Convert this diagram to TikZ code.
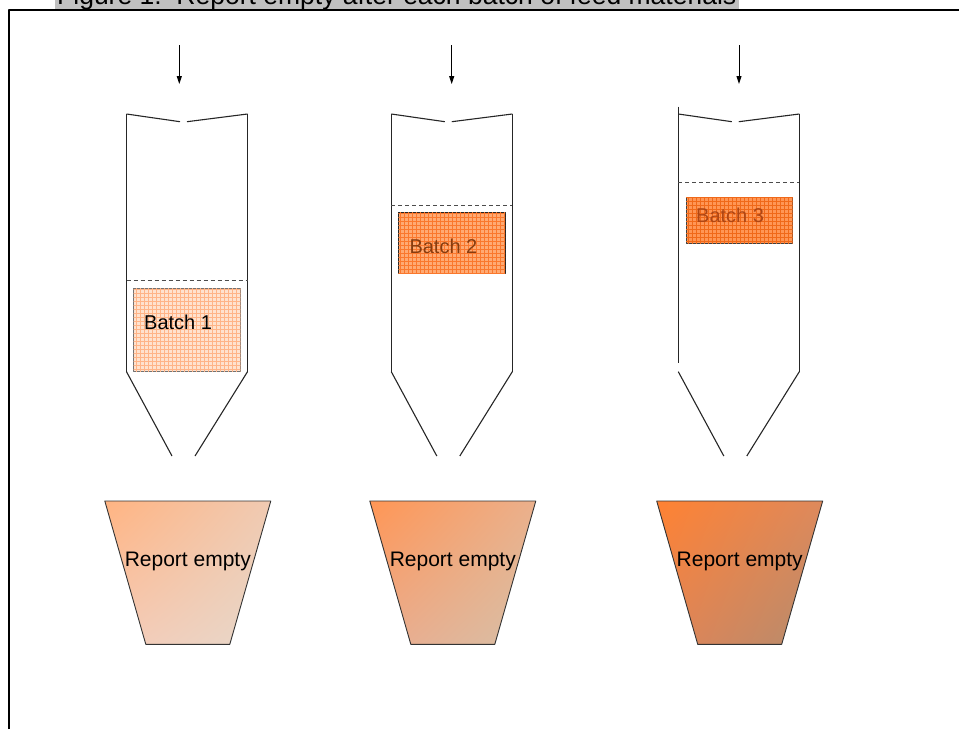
\documentclass[tikz,border=0pt]{standalone}
\usepackage{fontspec}
\setmainfont{Liberation Sans}
\usetikzlibrary{patterns,arrows.meta,shadings}

\definecolor{capgray}{RGB}{192,192,192}
\definecolor{fillA}{RGB}{255,226,206}
\definecolor{gridA}{RGB}{255,180,135}
\definecolor{fillB}{RGB}{255,170,115}
\definecolor{gridB}{RGB}{250,120,45}
\definecolor{fillC}{RGB}{255,150,85}
\definecolor{gridC}{RGB}{240,105,25}
\definecolor{txtB}{RGB}{135,60,15}
\definecolor{txtC}{RGB}{175,70,20}

% grid of about 4px for the batches
\pgfdeclarepatternformonly{batchgrid}{\pgfqpoint{-1pt}{-1pt}}{\pgfqpoint{5pt}{5pt}}{\pgfqpoint{4pt}{4pt}}{
	\pgfsetlinewidth{0.7pt}
	\pgfpathmoveto{\pgfqpoint{0pt}{0pt}}\pgfpathlineto{\pgfqpoint{0pt}{4.1pt}}
	\pgfpathmoveto{\pgfqpoint{0pt}{0pt}}\pgfpathlineto{\pgfqpoint{4.1pt}{0pt}}
	\pgfusepath{stroke}}

\begin{document}
\begin{tikzpicture}[x=1pt, y=-1pt, line join=round, >={Triangle[length=8pt,width=5pt]},
	wall/.style={line width=1.1pt, draw=black!85},
	level/.style={line width=0.9pt, draw=black!70, dash pattern=on 4pt off 3pt},
	batchbox/.style n args={3}{draw=#3, fill=#1, postaction={pattern=batchgrid, pattern color=#2},
		line width=1pt, minimum width=106.6pt, inner sep=0pt},
	lbl/.style={font=\fontsize{20}{24}\selectfont, inner sep=0pt, anchor=west},
	rep/.style={font=\fontsize{21}{24}\selectfont, inner sep=0pt}]
	\useasboundingbox (0,0) rectangle (959,729);
	
	% caption and frame
	\fill[capgray] (55,-2) rectangle (739,9);
	\node[font=\fontsize{26.5}{30}\selectfont, anchor=base west, inner sep=0pt] (cap) at (57,4.5)
	{Figure 1:\ \ Report empty after each batch of feed materials};
	\draw[line width=2.4pt] (8.7,729) -- (8.7,10) -- (959,10);
	
	% silos
	\foreach \i/\cx/\ax/\lv/\lt/\lb in {1/187/179.3/280/114/371.7, 2/451.8/451.7/205/114/371.7, 3/738.8/739/182.3/106.7/363.3}{
		\path (\ax,45) coordinate (in\i)
		(\ax,84) coordinate (out\i);
		\draw[->, line width=1pt] (in\i) -- (out\i);
		\draw[wall] ({\cx-60.5},\lt) -- ({\cx-60.5},\lb);
		\draw[wall] ({\cx+60.5},114) -- ({\cx+60.5},371.7);
		\draw[wall] ({\cx-60.5},114) -- ({\cx-7},121.7);
		\draw[wall] ({\cx},121.7) -- ({\cx+60.5},114);
		\draw[wall] ({\cx-60.5},371.7) -- ({\cx-15},456);
		\draw[wall] ({\cx+60.5},371.7) -- ({\cx+8},456);
		\draw[level] ({\cx-60.5},\lv) -- ({\cx+60.5},\lv);
	}
	
	% batches
	\node[batchbox={fillA}{gridA}{black!55}, minimum height=83.7pt] (batch1) at (187,330) {};
	\node[batchbox={fillB}{gridB}{black!85}, minimum height=61pt] (batch2) at (451.7,242.8) {};
	\node[batchbox={fillC}{gridC}{black!75}, minimum height=46pt] (batch3) at (739.3,220.3) {};
	\node[lbl] (t1) at (144,322) {Batch 1};
	\node[lbl, text=txtB] (t2) at (409.3,246.7) {Batch 2};
	\node[lbl, text=txtC] (t3) at (696,215.7) {Batch 3};
	
	% report buckets
	\foreach \i/\cx/\ul/\ur/\ll/\lr in {1/187.8/{255,180,130}/{240,202,178}/{246,202,182}/{230,216,202},
		2/452.8/{255,150,85}/{235,176,140}/{236,170,140}/{215,192,166},
		3/739.7/{255,130,50}/{222,137,92}/{226,132,86}/{180,140,110}}{
		\definecolor{cul}{RGB}{\ul}\definecolor{cur}{RGB}{\ur}
		\definecolor{cll}{RGB}{\ll}\definecolor{clr}{RGB}{\lr}
		\shadedraw[draw=black!80, line width=0.9pt, upper left=cul, upper right=cur, lower left=cll, lower right=clr]
		({\cx-83},501) -- ({\cx+83},501) -- ({\cx+42},644.3) -- ({\cx-42},644.3) -- cycle;
		\node[rep] (rep\i) at (\cx,561) {Report empty};
	}
\end{tikzpicture}
\end{document}
